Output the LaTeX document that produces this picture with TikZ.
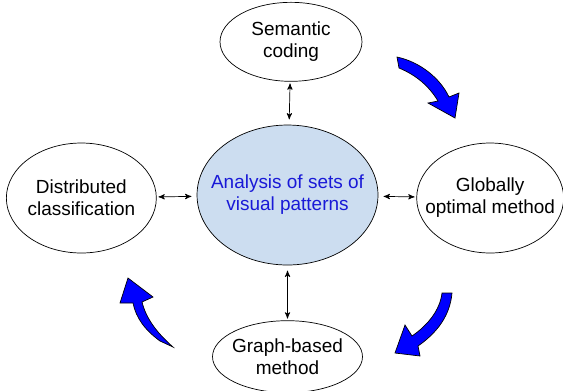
\documentclass[tikz,border=0pt]{standalone}
\usepackage{fontspec}
\setmainfont{Liberation Sans}
\usetikzlibrary{shapes.geometric, arrows, positioning}
\definecolor{coreblue}{RGB}{204,221,240}
\definecolor{coretext}{RGB}{25,25,215}
\tikzset{
    topic/.style={ellipse, draw=black, thin, minimum width=3cm, minimum height=2.2cm, inner sep=0pt},
    core/.style={topic, fill=coreblue, minimum width=3.62cm, minimum height=2.8cm},
    topictext/.style={align=center, font=\fontsize{10.8}{12.5}\selectfont, text=black},
    coretext/.style={topictext, text=coretext},
    link/.style={thin, <->, >=stealth', shorten <=3pt, shorten >=1pt},
    % big curved arrows between the methods
    turn/.style={fill=blue, draw=black, line width=0.4pt}
}

\begin{document}
\begin{tikzpicture}[x=0.02cm, y=-0.02cm]
    \useasboundingbox (0,0) rectangle (563,390);

    % --- NODES ---
    \node (analysis) [core, label={[coretext]center:Analysis of sets of\\visual patterns}] at (287.5,195) {};
    \node (coding) [topic, minimum width=2.84cm, minimum height=1.58cm, above=0.86cm of analysis, xshift=0.07cm,
                    label={[topictext]center:Semantic\\coding}] {};
    \node (distributed) [topic, left=0.8cm of analysis, yshift=-0.06cm,
                    label={[topictext]center:Distributed\\classification}] {};
    \node (optimal) [topic, minimum width=2.94cm, right=0.76cm of analysis, yshift=-0.06cm,
                    label={[topictext]center:Globally\\optimal method}] {};
    \node (graph) [topic, minimum height=1.44cm, below=1.1cm of analysis,
                    label={[topictext]center:Graph-based\\method}] {};

    % --- ARROWS ---
    \draw [link] (analysis) -- (coding);
    \draw [link] (analysis) -- (distributed);
    \draw [link] (analysis) -- (optimal);
    \draw [link] (analysis) -- (graph);

    % --- CURVED ARROWS ---
    \draw [turn] (397,57) .. controls (420,62) and (440,78) .. (449,97) -- (459,93) -- (455,118)
        -- (428,103) -- (438,101) .. controls (429,86) and (416,75) .. (399,68) -- cycle;
    \draw [turn] (442,293) -- (452,293) .. controls (450,315) and (438,332) .. (418,346) -- (420,356)
        -- (395,353) -- (405,325) -- (412,336) .. controls (428,325) and (440,310) .. (442,293) -- cycle;
    \draw [turn] (160,341) .. controls (145,330) and (136,318) .. (133,303) -- (120,303) -- (128,278)
        -- (153,297) -- (142,302) .. controls (146,318) and (156,332) .. (173,347) -- cycle;

\end{tikzpicture}
\end{document}
